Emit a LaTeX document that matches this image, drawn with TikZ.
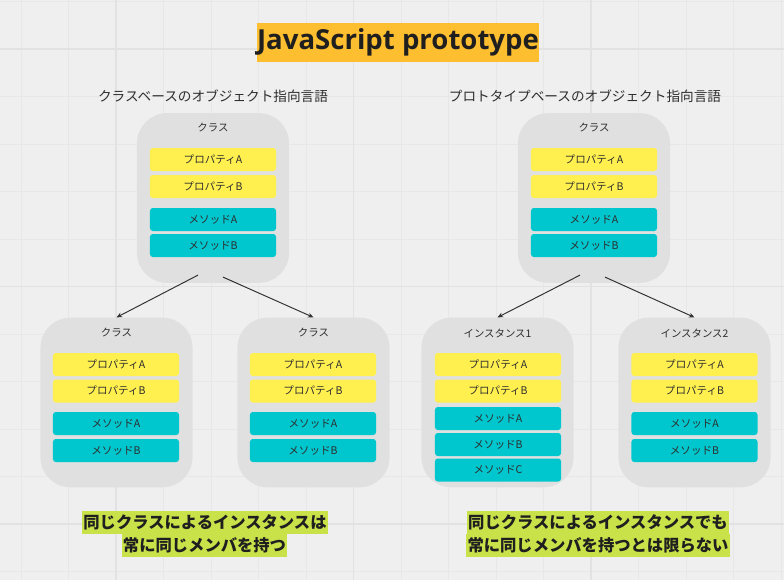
\documentclass[tikz,border=0pt]{standalone}
\usepackage{fontspec}
\setmainfont{Noto Sans CJK JP}
\newfontfamily\titlefont{Open Sans}
\usepackage{xcolor}
\usepackage{tikz}
\usetikzlibrary{arrows.meta}
\usetikzlibrary{calc}

\definecolor{bgcol}{HTML}{EFEFEF}
\definecolor{gridminor}{HTML}{E7E7E7}
\definecolor{gridmajor}{HTML}{E2E2E2}
\definecolor{panelgray}{HTML}{E0E0E0}
\definecolor{propyellow}{HTML}{FFF04F}
\definecolor{methcyan}{HTML}{00C6CE}
\definecolor{titleorange}{HTML}{FDBE30}
\definecolor{limegreen}{HTML}{C9E24A}
\definecolor{textgray}{HTML}{2E2E2E}
\definecolor{linegray}{HTML}{333333}

\begin{document}
\begin{tikzpicture}[
    x=0.025cm, y=-0.025cm,
    gridline/.style={draw=gridminor, line width=0.45pt},
    gridbold/.style={draw=gridmajor, line width=0.8pt},
    panel/.style={rectangle, rounded corners=0.75cm, fill=panelgray, minimum width=3.8cm, minimum height=4.24cm},
    boxtitle/.style={font=\fontsize{7.4}{8}\selectfont, text=textgray},
    prop/.style={rectangle, rounded corners=2pt, fill=propyellow, minimum width=3.15cm, minimum height=0.575cm, inner sep=0pt, font=\fontsize{7.5}{8}\selectfont, text=textgray},
    meth/.style={prop, fill=methcyan},
    heading/.style={font=\fontsize{9.7}{12}\selectfont, text=textgray},
    summary/.style={fill=limegreen, font=\bfseries\fontsize{11.6}{14}\selectfont, text=black!88, inner xsep=1pt, inner ysep=0pt, minimum height=0.575cm},
    conn/.style={draw=linegray, line width=0.7pt, -{Stealth[length=4pt, width=3.5pt]}},
  ]

  % background and grid
  \fill[bgcol] (0,0) rectangle (784,580);
  \useasboundingbox (0,0) rectangle (784,580);
  \foreach \i in {0,...,16}
    \draw[gridline] ({21+47.5*\i},0) -- ({21+47.5*\i},580);
  \foreach \j in {0,...,12}
    \draw[gridline] (0,{1.5+47.5*\j}) -- (784,{1.5+47.5*\j});
  \foreach \i in {0,1,2}
    \draw[gridbold] ({116+237.5*\i},0) -- ({116+237.5*\i},580);
  \foreach \j in {0,1,2}
    \draw[gridbold] (0,{49+237.5*\j}) -- (784,{49+237.5*\j});

  % title
  \node[fill=titleorange, minimum width=7cm, minimum height=0.975cm, inner sep=0pt,
        font=\titlefont\bfseries\fontsize{19.6}{22}\selectfont, text=black!88]
        (title) at (398,42.5) {JavaScript prototype};

  \node[heading] (hleft)  at (213,96) {クラスベースのオブジェクト指向言語};
  \node[heading] (hright) at (585,96) {プロトタイプベースのオブジェクト指向言語};

  % class based
  \node[panel] (cls) at (213,198) {};
  \node[boxtitle] (clsT) at (213,128) {クラス};
  \node[prop] (clsPA) at (213,159.5) {プロパティA};
  \node[prop] (clsPB) at (213,186.5) {プロパティB};
  \node[meth] (clsMA) at (213,219.5) {メソッドA};
  \node[meth] (clsMB) at (213,245.5) {メソッドB};

  \node[panel] (sub1) at (116.5,402.5) {};
  \node[boxtitle] (sub1T) at (116.5,333) {クラス};
  \node[prop] (sub1PA) at (116,364.5) {プロパティA};
  \node[prop] (sub1PB) at (116,391) {プロパティB};
  \node[meth] (sub1MA) at (116,423.5) {メソッドA};
  \node[meth] (sub1MB) at (116,450.5) {メソッドB};

  \node[panel] (sub2) at (313.5,402.5) {};
  \node[boxtitle] (sub2T) at (313.5,333) {クラス};
  \node[prop] (sub2PA) at (313,364.5) {プロパティA};
  \node[prop] (sub2PB) at (313,391) {プロパティB};
  \node[meth] (sub2MA) at (313,423.5) {メソッドA};
  \node[meth] (sub2MB) at (313,450.5) {メソッドB};

  \coordinate (clsL) at ($(cls.south)+(-15,-8)$);
  \coordinate (clsR) at ($(cls.south)+(10,-6)$);
  \draw[conn] (clsL) -- (sub1.north);
  \draw[conn] (clsR) -- (sub2.north);

  % prototype based
  \node[panel] (proto) at (594,198) {};
  \node[boxtitle] (protoT) at (594,128) {クラス};
  \node[prop] (protoPA) at (594,159.5) {プロパティA};
  \node[prop] (protoPB) at (594,186.5) {プロパティB};
  \node[meth] (protoMA) at (594,219.5) {メソッドA};
  \node[meth] (protoMB) at (594,245.5) {メソッドB};

  \node[panel] (inst1) at (497.5,402.5) {};
  \node[boxtitle] (inst1T) at (497.5,333) {インスタンス1};
  \node[prop] (inst1PA) at (498,364.5) {プロパティA};
  \node[prop] (inst1PB) at (498,391) {プロパティB};
  \node[meth] (inst1MA) at (498,418.5) {メソッドA};
  \node[meth] (inst1MB) at (498,444.5) {メソッドB};
  \node[meth] (inst1MC) at (498,470) {メソッドC};

  \node[panel] (inst2) at (694.5,402.5) {};
  \node[boxtitle] (inst2T) at (694.5,333) {インスタンス2};
  \node[prop] (inst2PA) at (694.5,364.5) {プロパティA};
  \node[prop] (inst2PB) at (694.5,391) {プロパティB};
  \node[meth] (inst2MA) at (694.5,423.5) {メソッドA};
  \node[meth] (inst2MB) at (694.5,450.5) {メソッドB};

  \coordinate (protoL) at ($(proto.south)+(-14,-8)$);
  \coordinate (protoR) at ($(proto.south)+(11,-6)$);
  \draw[conn] (protoL) -- (inst1.north);
  \draw[conn] (protoR) -- (inst2.north);

  % notes
  \node[summary] (noteL1) at (205,522.5) {同じクラスによるインスタンスは};
  \node[summary] (noteL2) at (204.5,545) {常に同じメンバを持つ};
  \node[summary] (noteR1) at (598,522) {同じクラスによるインスタンスでも};
  \node[summary] (noteR2) at (598,545) {常に同じメンバを持つとは限らない};

\end{tikzpicture}
\end{document}
